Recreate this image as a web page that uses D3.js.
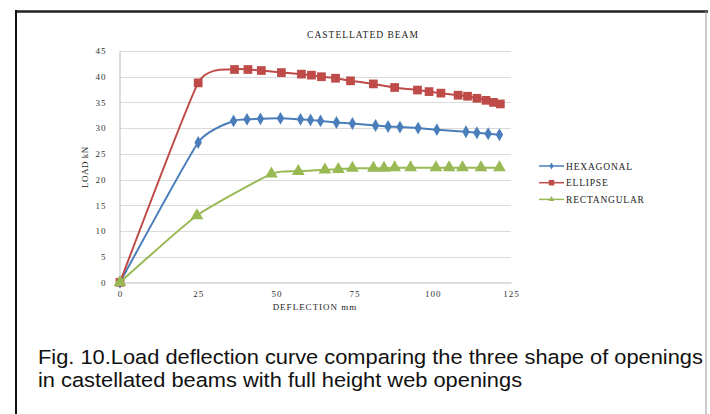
<!DOCTYPE html>
<html lang="en">
<head>
    <meta charset="UTF-8">
    <title>Castellated Beam</title>
    <script src="https://cdn.jsdelivr.net/npm/d3@7/dist/d3.min.js"></script>
    <style>
        body { margin: 0; background: #fff; }
        .tick text, .lbl { font-family: "Liberation Serif", "DejaVu Serif", serif; fill: #333; }
        .grid line { stroke: #dadada; stroke-width: 1; }
        .caption { font-family: "Liberation Sans", Arial, sans-serif; font-size: 19.5px; fill: #111; }
    </style>
</head>
<body>
<div id="chart"></div>

<script>
    /* global d3 */

    // deflection (mm) / load (kN)
    var hexX = [0, 25, 36.3, 40.6, 44.9, 51.3, 57.7, 60.9, 64.1, 69.2, 74.3, 81.7, 85.7, 89.5, 95.3, 101.3, 110.6, 114.1, 117.7, 121.3];
    var hexY = [0, 27.2, 31.4, 31.7, 31.8, 31.9, 31.7, 31.6, 31.4, 31.1, 30.9, 30.5, 30.3, 30.2, 30.0, 29.7, 29.3, 29.1, 28.9, 28.7];

    var ellX = [0, 25, 36.6, 40.9, 45.2, 51.6, 58.0, 61.2, 64.4, 68.9, 73.7, 81.0, 87.8, 95.1, 98.8, 102.6, 108.1, 111.1, 114.1, 117.0, 119.4, 121.6];
    var ellY = [0, 38.8, 41.4, 41.4, 41.2, 40.8, 40.5, 40.3, 40.0, 39.7, 39.2, 38.6, 37.9, 37.4, 37.1, 36.8, 36.4, 36.2, 35.8, 35.4, 35.0, 34.7];

    var recX = [0, 24.6, 48.4, 57.0, 65.5, 69.8, 74.3, 81.0, 84.4, 87.8, 92.9, 101.0, 105.2, 109.5, 115.4, 121.3];
    var recY = [0, 13.0, 21.1, 21.6, 21.9, 22.0, 22.2, 22.2, 22.2, 22.3, 22.3, 22.3, 22.3, 22.3, 22.3, 22.3];

    var xTicks = [0, 25, 50, 75, 100, 125];
    var yTicks = [0, 5, 10, 15, 20, 25, 30, 35, 40, 45];

    var seriesNames = ["HEXAGONAL", "ELLIPSE", "RECTANGULAR"];
    var seriesColors = ["#4a7ebb", "#be4b48", "#98b954"];
    var seriesSymbols = [d3.symbolDiamond, d3.symbolSquare, d3.symbolTriangle];
    var symbolSizes = [48, 76, 70];

    var width = 710, height = 414;

    var svg = d3.select("#chart").append("svg")
        .attr("width", width)
        .attr("height", height);

    // outer frame
    svg.append("line").attr("x1", 15).attr("x2", 708).attr("y1", 11.5).attr("y2", 11.5)
        .attr("stroke", "#222").attr("stroke-width", 2.5);
    svg.append("line").attr("x1", 16).attr("x2", 16).attr("y1", 10).attr("y2", 414)
        .attr("stroke", "#111").attr("stroke-width", 2);
    svg.append("line").attr("x1", 706).attr("x2", 706).attr("y1", 11).attr("y2", 414)
        .attr("stroke", "#999").attr("stroke-width", 1);

    var x = d3.scaleLinear().domain([0, 125]).range([120, 511]);
    var y = d3.scaleLinear().domain([0, 45]).range([282.3, 51]);

    // gridlines
    svg.append("g")
        .attr("class", "grid")
        .selectAll("line")
        .data(yTicks.slice(1))
        .enter().append("line")
        .attr("x1", x(0)).attr("x2", x(125))
        .attr("y1", function(d) { return Math.round(y(d)) + 0.5; })
        .attr("y2", function(d) { return Math.round(y(d)) + 0.5; });

    var xAxis = svg.append("g")
        .attr("transform", "translate(0," + (Math.round(y(0)) + 0.5) + ")")
        .call(d3.axisBottom(x).tickValues(xTicks).tickSize(0).tickPadding(8));
    xAxis.select(".domain").attr("stroke", "#bbb");
    xAxis.selectAll("text").attr("font-size", "9px").attr("letter-spacing", "1px");

    var yAxis = svg.append("g")
        .attr("transform", "translate(" + (x(0) - 0.5) + ",0)")
        .call(d3.axisLeft(y).tickValues(yTicks).tickSize(0).tickPadding(13));
    yAxis.select(".domain").attr("stroke", "#bbb");
    yAxis.selectAll("text").attr("font-size", "9px").attr("letter-spacing", "1px");

    // titles
    svg.append("text").attr("class", "lbl")
        .attr("x", 363).attr("y", 38)
        .attr("text-anchor", "middle")
        .attr("font-size", "9.5px").attr("letter-spacing", "1px")
        .style("fill", "#222")
        .text("CASTELLATED BEAM");

    svg.append("text").attr("class", "lbl")
        .attr("x", 315).attr("y", 310)
        .attr("text-anchor", "middle")
        .attr("font-size", "9px").attr("letter-spacing", "1px")
        .style("fill", "#222")
        .text("DEFLECTION mm");

    svg.append("text").attr("class", "lbl")
        .attr("transform", "translate(88,167) rotate(-90)")
        .attr("text-anchor", "middle")
        .attr("font-size", "9px").attr("letter-spacing", "0.5px")
        .style("fill", "#222")
        .text("LOAD kN");

    var allX = [hexX, ellX, recX];
    var allY = [hexY, ellY, recY];

    var line = d3.line()
        .x(function(d) { return x(d[0]); })
        .y(function(d) { return y(d[1]); })
        .curve(d3.curveCardinal.tension(0.5));

    var series = seriesNames.map(function(name, i) {
        return {
            name: name,
            color: seriesColors[i],
            symbol: seriesSymbols[i],
            size: symbolSizes[i],
            points: allX[i].map(function(v, j) { return [v, allY[i][j]]; })
        };
    });

    var g = svg.append("g").selectAll("g")
        .data(series)
        .enter().append("g");

    g.append("path")
        .attr("fill", "none")
        .attr("stroke", function(d) { return d.color; })
        .attr("stroke-width", 2)
        .attr("d", function(d) { return line(d.points); });

    g.each(function(s) {
        d3.select(this).selectAll("path.m")
            .data(s.points)
            .enter().append("path")
            .attr("class", "m")
            .attr("transform", function(d) { return "translate(" + x(d[0]) + "," + y(d[1]) + ")"; })
            .attr("d", d3.symbol().type(s.symbol).size(s.size))
            .attr("fill", s.color);
    });

    // legend
    var legend = svg.append("g").selectAll("g")
        .data(series)
        .enter().append("g")
        .attr("transform", function(d, i) { return "translate(539," + (166 + i * 16.7) + ")"; });

    legend.append("line")
        .attr("x1", 0).attr("x2", 25)
        .attr("stroke", function(d) { return d.color; })
        .attr("stroke-width", 1.5);
    legend.append("path")
        .attr("transform", "translate(12.5,0)")
        .attr("d", function(d, i) { return d3.symbol().type(d.symbol).size(i === 1 ? 30 : 14)(); })
        .attr("fill", function(d) { return d.color; });
    legend.append("text")
        .attr("class", "lbl")
        .attr("x", 27).attr("y", 3.5)
        .attr("font-size", "9.5px").attr("letter-spacing", "0.8px")
        .style("fill", "#222")
        .text(function(d) { return d.name; });

    // caption, stretched a little wider as in the scanned figure
    var cap = svg.append("g").attr("transform", "translate(38,0) scale(1.12,1)");
    cap.append("text").attr("class", "caption")
        .attr("x", 0).attr("y", 364)
        .text("Fig. 10.Load deflection curve comparing the three shape of openings");
    cap.append("text").attr("class", "caption")
        .attr("x", 0).attr("y", 387)
        .text("in castellated beams with full height web openings");
</script>
</body>
</html>
